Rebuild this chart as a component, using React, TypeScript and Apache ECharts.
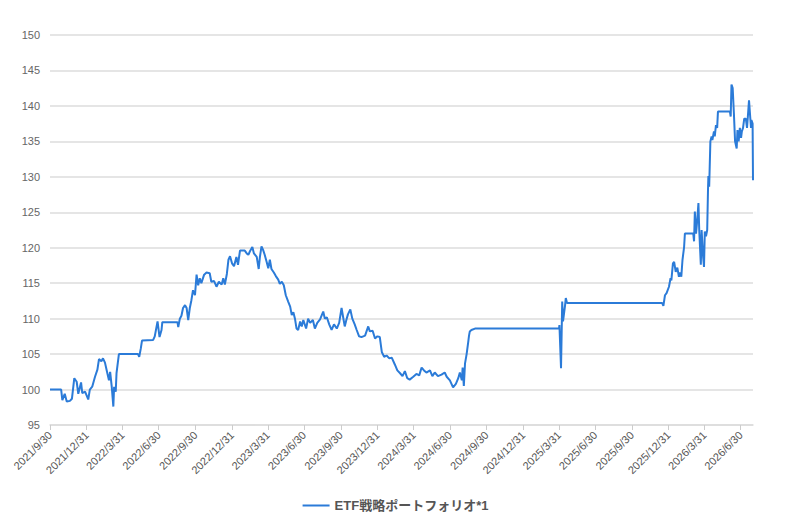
import React, { useEffect, useRef } from "react";
import * as echarts from "echarts";

const seriesName = "ETF戦略ポートフォリオ*1";

const tickDates = [
  "2021-09-30", "2021-12-31", "2022-03-31", "2022-06-30", "2022-09-30", "2022-12-31",
  "2023-03-31", "2023-06-30", "2023-09-30", "2023-12-31", "2024-03-31", "2024-06-30",
  "2024-09-30", "2024-12-31", "2025-03-31", "2025-06-30", "2025-09-30", "2025-12-31",
  "2026-03-31", "2026-06-30",
];

const yTicks = { min: 95, max: 150, step: 5 };
const xRange = { min: "2021-09-30", max: "2026-07-31" };

const dates = [
  "2021-09-30", "2021-10-28", "2021-10-31", "2021-11-06", "2021-11-11", "2021-11-19", "2021-11-24", "2021-11-30",
  "2021-12-06", "2021-12-10", "2021-12-17", "2021-12-20", "2021-12-27", "2022-01-04", "2022-01-08", "2022-01-14",
  "2022-01-21", "2022-01-27", "2022-01-31", "2022-02-06", "2022-02-10", "2022-02-15", "2022-02-19", "2022-02-25",
  "2022-02-28", "2022-03-04", "2022-03-08", "2022-03-10", "2022-03-14", "2022-03-16", "2022-03-22", "2022-05-09",
  "2022-05-12", "2022-05-16", "2022-05-19", "2022-06-16", "2022-06-20", "2022-06-27", "2022-07-02", "2022-07-07",
  "2022-07-09", "2022-08-16", "2022-08-18", "2022-08-22", "2022-08-26", "2022-08-30", "2022-09-04", "2022-09-08",
  "2022-09-12", "2022-09-16", "2022-09-20", "2022-09-24", "2022-09-29", "2022-10-03", "2022-10-07", "2022-10-11",
  "2022-10-15", "2022-10-22", "2022-10-28", "2022-11-05", "2022-11-09", "2022-11-16", "2022-11-22", "2022-11-28",
  "2022-12-05", "2022-12-09", "2022-12-13", "2022-12-18", "2022-12-22", "2022-12-26", "2022-12-31", "2023-01-05",
  "2023-01-11", "2023-01-15", "2023-01-20", "2023-02-01", "2023-02-06", "2023-02-10", "2023-02-14", "2023-02-20",
  "2023-02-24", "2023-03-03", "2023-03-08", "2023-03-11", "2023-03-15", "2023-03-19", "2023-03-23", "2023-03-28",
  "2023-04-01", "2023-04-05", "2023-04-09", "2023-04-15", "2023-04-20", "2023-04-26", "2023-04-30", "2023-05-05",
  "2023-05-10", "2023-05-15", "2023-05-21", "2023-05-26", "2023-05-30", "2023-06-03", "2023-06-07", "2023-06-11",
  "2023-06-15", "2023-06-20", "2023-06-24", "2023-06-28", "2023-07-05", "2023-07-10", "2023-07-15", "2023-07-22",
  "2023-07-27", "2023-08-02", "2023-08-09", "2023-08-17", "2023-08-21", "2023-08-26", "2023-09-01", "2023-09-07",
  "2023-09-13", "2023-09-20", "2023-09-26", "2023-10-02", "2023-10-06", "2023-10-10", "2023-10-14", "2023-10-18",
  "2023-10-24", "2023-10-29", "2023-11-04", "2023-11-09", "2023-11-15", "2023-11-21", "2023-11-30", "2023-12-08",
  "2023-12-12", "2023-12-19", "2023-12-25", "2023-12-31", "2024-01-06", "2024-01-11", "2024-01-17", "2024-01-23",
  "2024-01-30", "2024-02-05", "2024-02-13", "2024-02-19", "2024-02-26", "2024-03-03", "2024-03-09", "2024-03-15",
  "2024-03-21", "2024-03-30", "2024-04-07", "2024-04-14", "2024-04-20", "2024-04-26", "2024-05-02", "2024-05-11",
  "2024-05-17", "2024-05-23", "2024-05-31", "2024-06-09", "2024-06-17", "2024-06-22", "2024-06-30", "2024-07-08",
  "2024-07-15", "2024-07-21", "2024-07-25", "2024-07-30", "2024-08-01", "2024-08-04", "2024-08-07", "2024-08-11",
  "2024-08-15", "2024-08-17", "2024-08-19", "2024-08-23", "2024-09-01", "2025-03-31", "2025-04-01", "2025-04-05",
  "2025-04-08", "2025-04-10", "2025-04-15", "2025-04-17", "2025-04-20", "2025-12-15", "2025-12-18", "2025-12-22",
  "2025-12-26", "2026-01-01", "2026-01-05", "2026-01-07", "2026-01-11", "2026-01-14", "2026-01-18", "2026-01-22",
  "2026-01-26", "2026-01-29", "2026-02-01", "2026-02-04", "2026-02-08", "2026-02-10", "2026-03-03", "2026-03-05",
  "2026-03-07", "2026-03-10", "2026-03-13", "2026-03-16", "2026-03-18", "2026-03-22", "2026-03-24", "2026-03-27",
  "2026-03-30", "2026-04-01", "2026-04-04", "2026-04-07", "2026-04-09", "2026-04-10", "2026-04-12", "2026-04-15",
  "2026-04-18", "2026-04-20", "2026-04-24", "2026-04-26", "2026-04-29", "2026-05-02", "2026-05-04", "2026-06-03",
  "2026-06-05", "2026-06-07", "2026-06-10", "2026-06-13", "2026-06-16", "2026-06-20", "2026-06-22", "2026-06-25",
  "2026-06-28", "2026-07-01", "2026-07-03", "2026-07-06", "2026-07-09", "2026-07-13", "2026-07-16", "2026-07-19",
  "2026-07-21", "2026-07-23", "2026-07-26", "2026-07-27", "2026-07-30", "2026-07-31",
];

const values = [
  100, 100, 98.5, 99.4, 98.3, 98.4, 98.7, 101.6,
  101.1, 99.4, 101, 99.5, 99.7, 98.6, 100, 100.4,
  101.8, 102.8, 104.3, 104.0, 104.4, 103.8, 102.8, 101.3,
  102.5, 100.4, 97.6, 100.4, 99.7, 102.3, 105, 105,
  104.6, 105.8, 106.9, 107, 107.5, 109.6, 107.4, 108.4,
  109.5, 109.5, 108.8, 110.0, 110.4, 111.5, 111.9, 111.5,
  109.8, 111.5, 112.6, 114.0, 113.3, 116.2, 114.7, 115.7,
  115.0, 116.2, 116.5, 116.4, 115.2, 115.3, 114.5, 115.2,
  114.8, 115.7, 114.8, 116.3, 118.3, 118.8, 117.8, 117.4,
  118.7, 117.6, 119.6, 119.6, 119.2, 119, 119.5, 120.1,
  119.2, 118.7, 117, 118.7, 120.2, 119.7, 119, 118,
  117.1, 118.3, 117, 116.5, 116, 115.5, 114.9, 115.2,
  114.7, 113.3, 112.4, 111.7, 110.5, 110.9, 110, 108.6,
  108.4, 109.6, 108.9, 109.8, 108.6, 110, 109.4, 109.8,
  108.6, 109.4, 109.9, 111, 110, 110.2, 109.2, 108.4,
  109.2, 108.6, 109.4, 111.5, 110.2, 108.9, 109.8, 110.6,
  111.3, 110, 109.2, 108.4, 107.5, 107.4, 107.6, 108.9,
  108.2, 108.3, 107.2, 107.5, 107.4, 105.3, 104.6, 104.8,
  104.4, 104.5, 103.5, 102.7, 102.3, 101.9, 102.6, 101.6,
  101.4, 101.8, 102.2, 102, 103.1, 102.7, 102.4, 102.7,
  101.9, 102.4, 101.9, 102.1, 102.4, 101.8, 101.3, 100.3,
  100.8, 101.6, 102.4, 101.3, 103.1, 100.5, 103.7, 105,
  106.7, 107.6, 108.2, 108.4, 108.6, 108.6, 109.1, 103,
  112.4, 109.6, 111.8, 112.9, 112.2, 112.2, 111.8, 113.3,
  113.6, 114.5, 115.7, 115.4, 117.8, 118, 116.6, 117.2,
  115.9, 116.5, 115.9, 118.3, 120.1, 122, 122, 120.9,
  125.1, 122, 123.9, 126.3, 122.5, 117.6, 122.5, 119.2,
  117.3, 122.3, 121.6, 122.5, 128.1, 130.1, 128.6, 135,
  135.7, 135.2, 136.4, 135.7, 137.3, 136.9, 139.2, 139.2,
  138.5, 143, 142.5, 139, 135, 134, 136.6, 135,
  136.9, 135.5, 136.4, 136.9, 138.2, 138.2, 136.9, 139.2,
  140.8, 139.2, 136.9, 138, 137.5, 129.5,
];

const fontFamily = "'Liberation Sans', Arial, 'Noto Sans CJK JP', sans-serif";

function toTs(s: string): number {
  const [y, m, d] = s.split("-").map(Number);
  return Date.UTC(y, m - 1, d);
}

function fmtDate(v: number): string {
  const d = new Date(v);
  return `${d.getUTCFullYear()}/${d.getUTCMonth() + 1}/${d.getUTCDate()}`;
}

export default function App() {
  const ref = useRef<HTMLDivElement>(null);

  useEffect(() => {
    if (!ref.current) return;
    const chart = echarts.init(ref.current, undefined, { renderer: "svg" });
    const data = dates.map((d, i) => [toTs(d), values[i]]);
    const ticks = tickDates.map(toTs);
    chart.setOption({
      animation: false,
      textStyle: { fontFamily },
      grid: { left: 50, right: 38, top: 35, bottom: 100 },
      legend: {
        left: "center",
        top: 494,
        icon: "rect",
        itemWidth: 27,
        itemHeight: 2,
        itemGap: 10,
        textStyle: { color: "#555", fontSize: 13, fontWeight: "bold", fontFamily },
        data: [seriesName],
      },
      xAxis: {
        type: "value",
        min: toTs(xRange.min),
        max: toTs(xRange.max),
        axisLine: { show: true, lineStyle: { color: "#dcdcdc", width: 1.5 } },
        axisTick: { show: true, customValues: ticks, length: 5, lineStyle: { color: "#cccccc" } },
        splitLine: { show: false },
        axisLabel: {
          customValues: ticks,
          rotate: 45,
          margin: 8,
          color: "#555",
          fontSize: 11,
          fontFamily,
          formatter: (v: number) => fmtDate(v),
        },
      },
      yAxis: {
        type: "value",
        min: yTicks.min,
        max: yTicks.max,
        interval: yTicks.step,
        axisLine: { show: false },
        axisTick: { show: false },
        axisLabel: { color: "#666", fontSize: 11, margin: 10, fontFamily },
        splitLine: { lineStyle: { color: "#dcdcdc", width: 1.5 } },
      },
      series: [
        {
          name: seriesName,
          type: "line",
          data,
          showSymbol: false,
          symbol: "none",
          lineStyle: { color: "#2b7bd8", width: 2 },
          itemStyle: { color: "#2b7bd8" },
        },
      ],
    });
    return () => chart.dispose();
  }, []);

  return (
    <div
      ref={ref}
      style={{ position: "absolute", left: 0, top: 0, width: 791, height: 525 }}
    />
  );
}
